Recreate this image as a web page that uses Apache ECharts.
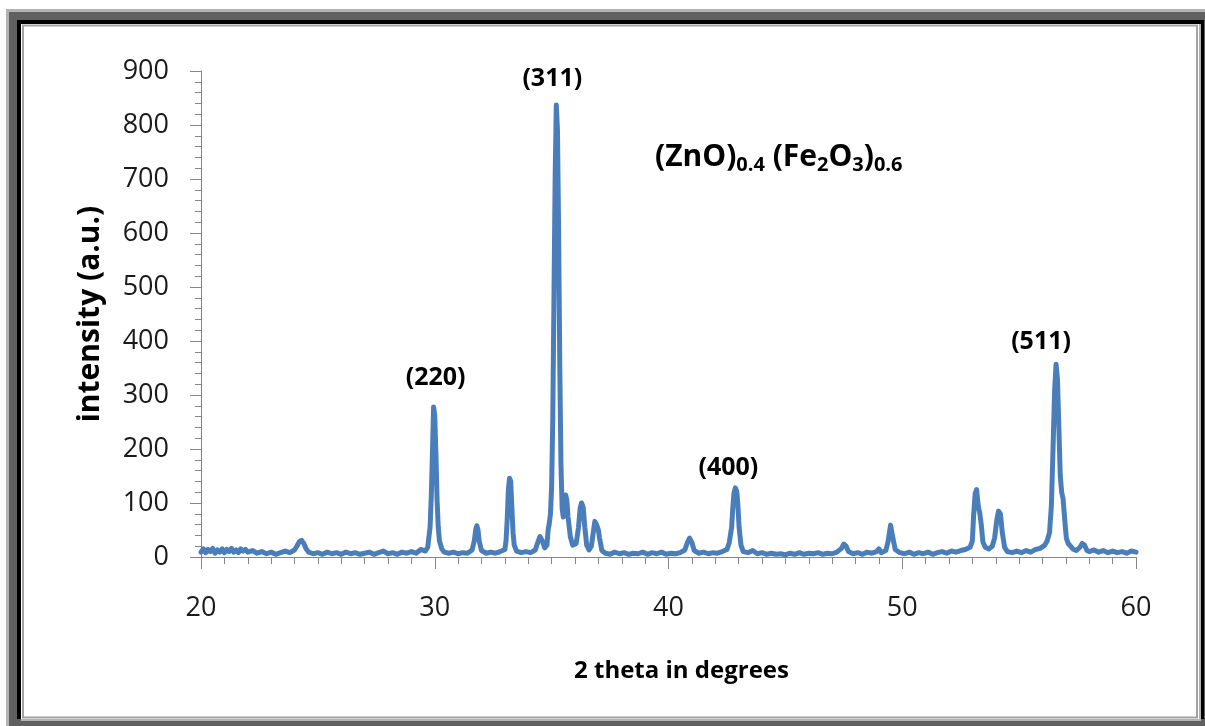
<!DOCTYPE html>
<html>
<head>
<meta charset="utf-8">
<title>XRD (ZnO)0.4 (Fe2O3)0.6</title>
<script src="https://cdn.jsdelivr.net/npm/echarts@6/dist/echarts.min.js"></script>
<style>
  html, body { margin: 0; padding: 0; background: #fff; }
  #chart { width: 1205px; height: 726px; }
</style>
</head>
<body>
<div id="chart"></div>
<script>
// XRD scan: [2 theta, intensity]
const xrdScan = [
  [20.0,9],[20.1,15],[20.2,8],[20.3,14],[20.4,10],[20.5,16],[20.6,7],[20.7,13],[20.8,9],[20.9,15],
  [21.0,8],[21.1,14],[21.2,10],[21.3,16],[21.4,9],[21.5,13],[21.6,8],[21.7,15],[21.8,11],[21.9,14],
  [22.0,9],[22.2,12],[22.4,7],[22.6,10],[22.8,6],[23.0,9],[23.2,5],[23.4,8],[23.6,11],[23.8,8],
  [24.0,13],[24.1,20],[24.2,28],[24.3,31],[24.4,25],[24.5,15],[24.6,9],[24.8,6],[25.0,8],[25.2,5],
  [25.4,9],[25.6,6],[25.8,8],[26.0,5],[26.2,9],[26.4,6],[26.6,8],[26.8,5],[27.0,7],[27.2,9],
  [27.4,5],[27.6,8],[27.8,11],[28.0,6],[28.2,8],[28.4,5],[28.6,9],[28.8,7],[29.0,10],[29.2,7],
  [29.4,14],[29.6,11],[29.7,18],[29.8,55],[29.85,110],[29.9,190],[29.95,278],[30.0,262],[30.05,190],
  [30.1,105],[30.15,55],[30.2,30],[30.3,15],[30.4,9],[30.6,7],[30.8,9],[31.0,6],[31.2,8],[31.4,7],
  [31.6,13],[31.7,32],[31.75,50],[31.8,58],[31.85,50],[31.9,30],[32.0,12],[32.2,7],[32.4,9],[32.6,7],
  [32.8,10],[33.0,14],[33.05,30],[33.1,70],[33.15,125],[33.2,146],[33.25,140],[33.3,90],[33.35,45],
  [33.4,22],[33.5,11],[33.7,8],[33.9,10],[34.1,8],[34.3,13],[34.4,26],[34.5,38],[34.6,30],[34.7,17],
  [34.8,22],[34.85,50],[34.9,62],[34.95,80],[35.0,130],[35.05,260],[35.1,480],[35.15,700],[35.2,837],
  [35.25,790],[35.3,600],[35.35,350],[35.4,170],[35.45,90],[35.5,74],[35.55,100],[35.6,115],[35.65,105],
  [35.7,75],[35.8,38],[35.9,22],[35.95,19],[36.05,25],[36.15,55],[36.22,90],[36.28,100],[36.35,92],
  [36.42,55],[36.5,22],[36.6,13],[36.7,20],[36.78,45],[36.85,66],[36.92,60],[37.0,50],[37.05,35],
  [37.15,12],[37.3,7],[37.5,5],[37.7,9],[37.9,6],[38.1,8],[38.3,5],[38.5,7],[38.7,6],[38.9,9],
  [39.1,5],[39.3,8],[39.5,6],[39.7,9],[39.9,5],[40.1,7],[40.3,6],[40.5,8],[40.7,13],[40.8,26],
  [40.9,35],[41.0,27],[41.1,12],[41.3,7],[41.5,9],[41.7,6],[41.9,8],[42.1,7],[42.3,10],[42.5,14],
  [42.6,27],[42.7,55],[42.75,90],[42.8,118],[42.86,128],[42.92,122],[42.97,95],[43.02,55],[43.1,22],
  [43.2,10],[43.4,8],[43.6,12],[43.8,6],[44.0,8],[44.2,5],[44.4,7],[44.6,5],[44.8,6],[45.0,4],
  [45.2,7],[45.4,5],[45.6,8],[45.8,5],[46.0,7],[46.2,6],[46.4,8],[46.6,5],[46.8,7],[47.0,6],
  [47.2,9],[47.4,16],[47.5,24],[47.6,20],[47.7,10],[47.9,6],[48.1,8],[48.3,5],[48.5,9],[48.7,7],
  [48.9,10],[49.0,15],[49.1,8],[49.3,12],[49.4,30],[49.5,59],[49.55,57],[49.6,35],[49.7,14],[49.9,8],
  [50.1,6],[50.3,9],[50.5,5],[50.7,8],[50.9,6],[51.1,9],[51.3,5],[51.5,8],[51.7,10],[51.9,7],
  [52.1,11],[52.3,9],[52.5,12],[52.7,14],[52.9,18],[53.0,30],[53.05,75],[53.12,118],[53.18,125],
  [53.25,95],[53.32,80],[53.38,60],[53.45,28],[53.55,18],[53.7,15],[53.85,20],[53.95,35],[54.05,70],
  [54.12,85],[54.2,80],[54.28,45],[54.38,18],[54.5,10],[54.7,8],[54.9,11],[55.1,8],[55.3,12],[55.5,9],
  [55.7,14],[55.9,16],[56.1,22],[56.2,30],[56.3,45],[56.38,95],[56.45,200],[56.52,310],[56.58,357],
  [56.64,330],[56.7,240],[56.76,150],[56.82,120],[56.88,108],[56.95,70],[57.02,35],[57.1,25],[57.2,20],
  [57.3,15],[57.45,12],[57.6,18],[57.7,25],[57.8,22],[57.9,12],[58.0,10],[58.2,13],[58.4,9],[58.6,12],
  [58.8,8],[59.0,11],[59.2,8],[59.4,10],[59.6,7],[59.8,11],[60.0,9]
];

// indexed peaks
const peakNames = ['(220)', '(311)', '(400)', '(511)'];
const peakTheta = [29.95, 35.2, 42.86, 56.58];
const peakIntensity = [278, 837, 128, 357];

// axis ranges
const xRange = [20, 60];
const yRange = [0, 900];

const axisGray = '#868686';
const lineBlue = '#4A7EBB';
const font = "'Open Sans', 'Liberation Sans', sans-serif";

// label offsets (px) from each peak top
const labelOffsets = [[2, -29], [-4, -26], [-7, -20], [-15, -22]];

const chart = echarts.init(document.getElementById('chart'));

const option = {
  animation: false,
  backgroundColor: '#fff',
  textStyle: { fontFamily: font },
  grid: {
    left: 201,
    right: 69,
    top: 71,
    bottom: 169,
    containLabel: false,
    outerBoundsMode: 'none'
  },
  xAxis: {
    type: 'value',
    min: xRange[0],
    max: xRange[1],
    interval: 10,
    name: '2 theta in degrees',
    nameLocation: 'middle',
    nameGap: 102,
    nameTextStyle: { fontFamily: font, fontSize: 24, fontWeight: 'bold', color: '#000', padding: [0, 0, 0, 26] },
    axisLine: { show: true, onZero: false, lineStyle: { color: axisGray, width: 1 } },
    axisTick: { show: true, inside: false, length: 12, lineStyle: { color: axisGray } },
    minorTick: { show: true, splitNumber: 10, length: 7, lineStyle: { color: axisGray } },
    axisLabel: { margin: 38, fontFamily: font, fontSize: 27, color: '#1a1a1a' },
    splitLine: { show: false },
    minorSplitLine: { show: false }
  },
  yAxis: {
    type: 'value',
    min: yRange[0],
    max: yRange[1],
    interval: 100,
    name: 'intensity (a.u.)',
    nameLocation: 'middle',
    nameGap: 96,
    nameTextStyle: { fontFamily: font, fontSize: 30, fontWeight: 'bold', color: '#000' },
    axisLine: { show: true, lineStyle: { color: axisGray, width: 1 } },
    axisTick: { show: true, inside: false, length: 11, lineStyle: { color: axisGray } },
    minorTick: { show: true, splitNumber: 5, length: 6, lineStyle: { color: axisGray } },
    axisLabel: { margin: 32, fontFamily: font, fontSize: 27, color: '#1a1a1a' },
    splitLine: { show: false },
    minorSplitLine: { show: false }
  },
  graphic: [
    // picture frame
    { type: 'rect', z: -10, shape: { x: 6, y: 9, width: 1199, height: 717 }, style: { fill: '#b3b3b3' } },
    { type: 'rect', z: -9, shape: { x: 9, y: 12, width: 1196, height: 714 }, style: { fill: '#606060' } },
    { type: 'rect', z: -8, shape: { x: 17, y: 20, width: 1187, height: 699 }, style: { fill: '#000' } },
    { type: 'rect', z: -7, shape: { x: 21, y: 24, width: 1180, height: 697 }, style: { fill: '#b3b3b3' } },
    { type: 'rect', z: -6, shape: { x: 21, y: 24, width: 1178, height: 695 }, style: { fill: '#fff' } },
    { type: 'rect', z: -5, shape: { x: 23, y: 25.5, width: 1174, height: 692 }, style: { fill: null, stroke: '#a3a3a3', lineWidth: 2 } },
    // sample composition
    {
      type: 'text',
      z: 10,
      style: {
        x: 655,
        y: 157,
        verticalAlign: 'middle',
        text: '{b|(ZnO)}{s|0.4}{b| (Fe}{s|2}{b|O}{s|3}{b|)}{s|0.6}',
        rich: {
          b: { fontFamily: font, fontSize: 30, fontWeight: 'bold', color: '#000' },
          s: { fontFamily: font, fontSize: 20, fontWeight: 'bold', color: '#000', padding: [17, 0, 0, 0] }
        }
      }
    }
  ],
  series: [
    {
      type: 'line',
      data: xrdScan,
      showSymbol: false,
      symbol: 'none',
      smooth: false,
      clip: false,
      lineStyle: { color: lineBlue, width: 5, join: 'round', cap: 'round' },
      itemStyle: { color: lineBlue },
      markPoint: {
        symbol: 'circle',
        symbolSize: 1,
        itemStyle: { color: 'rgba(0,0,0,0)' },
        data: peakNames.map((name, i) => ({
          name: name,
          coord: [peakTheta[i], peakIntensity[i]],
          label: {
            show: true,
            position: 'inside',
            offset: labelOffsets[i],
            formatter: name,
            fontFamily: font,
            fontSize: 25,
            fontWeight: 'bold',
            color: '#000'
          }
        }))
      }
    }
  ]
};

chart.setOption(option);
</script>
</body>
</html>
